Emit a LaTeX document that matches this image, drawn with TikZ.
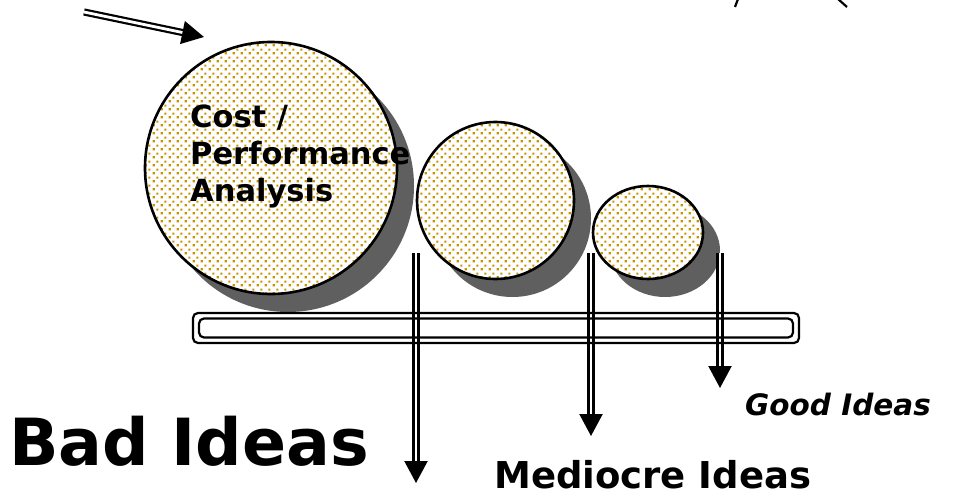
\documentclass[tikz,border=0pt]{standalone}
\usepackage{fontspec}
\setmainfont{DejaVu Sans}
\usetikzlibrary{shapes.geometric, arrows.meta, shadows, patterns.meta}
\definecolor{ink}{HTML}{000000}
\definecolor{dotgold}{HTML}{C99400}
\definecolor{shade}{HTML}{5F5F5F}

% staggered dot screen used inside the balls
\tikzdeclarepattern{
  name=golddots,
  type=uncolored,
  bounding box={(0pt,0pt) and (8pt,8pt)},
  tile size={(8pt,8pt)},
  code={
    \fill (0.8pt,0.8pt) rectangle (3.2pt,3.2pt);
    \fill (4.8pt,4.8pt) rectangle (7.2pt,7.2pt);
  }
}

\tikzset{
  ball/.style    ={circle, draw=ink, line width=2.6pt, inner sep=0pt,
                   drop shadow={shadow xshift=17pt, shadow yshift=-18pt,
                                fill=shade, opacity=1},
                   preaction={fill=white},
                   pattern=golddots, pattern color=dotgold},
  eggball/.style ={ball, ellipse},
  pipe/.style    ={draw=ink, line width=2.2pt, double=white, double distance=2.8pt},
  drop/.style    ={pipe, -{Triangle[length=22pt, width=23pt]}},
  tray/.style    ={draw=ink, line width=2.2pt, rounded corners=5pt, inner sep=0pt},
  tag/.style     ={anchor=base west, inner sep=0pt, text=ink},
  balltext/.style={tag, align=left, font=\fontsize{30.5}{37}\selectfont\bfseries},
  badtext/.style ={tag, font=\fontsize{65}{78}\selectfont\bfseries},
  midtext/.style ={tag, font=\fontsize{37}{44}\selectfont\bfseries},
  goodtext/.style={tag, font=\fontsize{29.5}{35}\selectfont\bfseries\itshape}
}

\begin{document}
\begin{tikzpicture}[x=1pt, y=-1pt]
  \useasboundingbox (0,0) rectangle (960,495);

  % the three sieves, largest first
  \node[ball, minimum size=252pt] (big) at (271,168) {};
  \node[ball, minimum size=157pt] (mid) at (495.5,200.5) {};
  \node[eggball, minimum width=110pt, minimum height=93pt] (small) at (648,232.5) {};

  % base anchor sits on the last line
  \node[balltext] (cpa) at (190,201) {Cost /\\Performance\\Analysis};

  % feed arrow
  \coordinate (feed)    at (84,12);
  \coordinate (feedtip) at (204,37);
  \draw[drop] (feed) -- (feedtip);

  % outlet arrows
  \coordinate (badtop)  at (416,253);
  \coordinate (badend)  at (416,483);
  \coordinate (midtop)  at (591,253);
  \coordinate (midend)  at (591,436);
  \coordinate (goodtop) at (720,253);
  \coordinate (goodend) at (720,388);
  \draw[drop] (badtop)  -- (badend);
  \draw[drop] (midtop)  -- (midend);
  \draw[drop] (goodtop) -- (goodend);

  % rail under the sieves
  \node[tray, minimum width=606pt, minimum height=30pt] (rail)   at (496,328) {};
  \node[tray, minimum width=594pt, minimum height=19pt] (railin) at (rail.center) {};

  % labels
  \node[badtext]  (bad)  at (9,465)   {Bad Ideas};
  \node[midtext]  (mido) at (494,488) {Mediocre Ideas};
  \node[goodtext] (good) at (745,415) {Good Ideas};

  % edge of the funnel cut by the frame
  \coordinate (fl0) at (735,7);
  \coordinate (fl1) at (738,-1);
  \coordinate (fr0) at (847,7);
  \coordinate (fr1) at (838,-1);
  \draw[line width=2.2pt] (fl0) -- (fl1);
  \draw[line width=2.2pt] (fr0) -- (fr1);
\end{tikzpicture}
\end{document}
